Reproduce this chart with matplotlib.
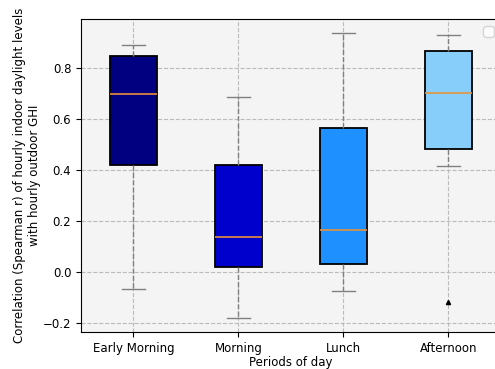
import numpy as np
import matplotlib
matplotlib.use("Agg")
import matplotlib.pyplot as plt
import warnings

# box statistics
periods = ["Early Morning", "Morning", "Lunch", "Afternoon"]
q1 = [0.42, 0.02, 0.031, 0.48]
med = [0.695, 0.137, 0.164, 0.699]
q3 = [0.844, 0.418, 0.5625, 0.867]
whis_lo = [-0.066, -0.18, -0.074, 0.414]
whis_hi = [0.887, 0.684, 0.934, 0.926]
fliers = [[], [], [], [-0.117]]
box_colors = ["navy", "mediumblue", "dodgerblue", "lightskyblue"]

stats = []
for i in range(len(periods)):
    stats.append({"label": periods[i], "q1": q1[i], "med": med[i], "q3": q3[i],
                  "whislo": whis_lo[i], "whishi": whis_hi[i], "fliers": fliers[i]})

fig = plt.figure(figsize=(4.95, 3.69), dpi=100)
ax = fig.add_axes([0.1636, 0.1003, 0.8485, 0.848])
ax.set_facecolor("#f4f4f4")

bp = ax.bxp(stats, widths=0.45, patch_artist=True,
            boxprops=dict(edgecolor="black", linewidth=1.3),
            medianprops=dict(color="#e8913a", linewidth=1.2),
            whiskerprops=dict(color="gray", linestyle="--", linewidth=1),
            capprops=dict(color="gray", linewidth=1),
            flierprops=dict(marker="^", markersize=3, markerfacecolor="black",
                            markeredgecolor="black"))
for patch, c in zip(bp["boxes"], box_colors):
    patch.set_facecolor(c)

ax.set_xlim(0.5, 4.5)
ax.set_ylim(-0.234, 0.99)
ax.set_yticks([-0.2, 0.0, 0.2, 0.4, 0.6, 0.8])
ax.grid(True, linestyle="--", color="#bbbbbb", linewidth=0.8)
ax.set_axisbelow(True)
ax.tick_params(labelsize=8.5)
ax.set_xlabel("Periods of day", fontsize=8.5, labelpad=1)
ax.set_ylabel("Correlation (Spearman r) of hourly indoor daylight levels\nwith hourly outdoor GHI",
              fontsize=8.5, labelpad=1)
warnings.filterwarnings("ignore")
ax.legend(loc="upper right")

fig.savefig("out.png", dpi=100)
